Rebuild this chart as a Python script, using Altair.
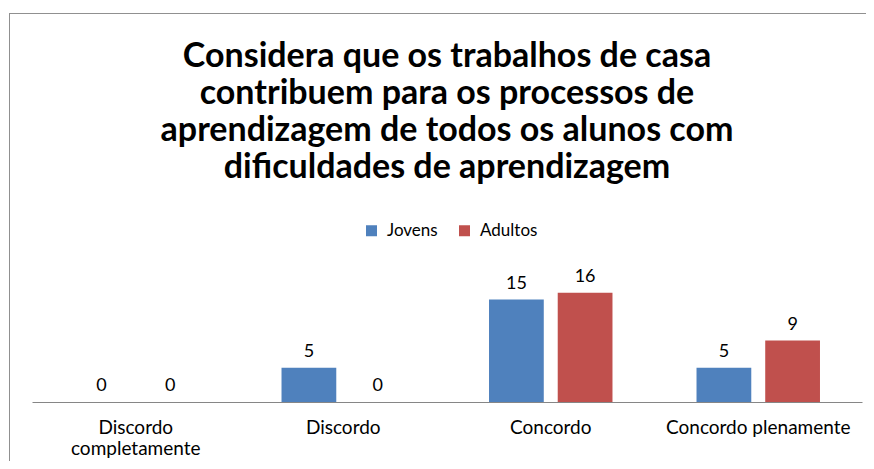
import altair as alt
import pandas as pd

categorias = ["Discordo completamente", "Discordo", "Concordo", "Concordo plenamente"]
jovens = [0, 5, 15, 5]
adultos = [0, 0, 16, 9]
series = ["Jovens", "Adultos"]
cores = ["#4F81BD", "#C0504D"]
titulo = [
    "Considera que os trabalhos de casa",
    "contribuem para os processos de",
    "aprendizagem de todos os alunos com",
    "dificuldades de aprendizagem",
]

rows = []
for c, j, a in zip(categorias, jovens, adultos):
    rows.append({"categoria": c, "grupo": series[0], "valor": j})
    rows.append({"categoria": c, "grupo": series[1], "valor": a})
df = pd.DataFrame(rows)

FONT = "Lato"

x_enc = alt.X(
    "categoria:N",
    sort=categorias,
    scale=alt.Scale(paddingInner=0.405, paddingOuter=0.2025),
    axis=alt.Axis(
        title=None,
        labelAngle=0,
        ticks=False,
        domainColor="#868686",
        domainWidth=1,
        labelFont=FONT,
        labelFontSize=19,
        labelColor="#000000",
        labelPadding=16,
        labelLimit=400,
        labelOverlap=False,
        labelLineHeight=21,
        labelExpr="datum.value == 'Discordo completamente' ? ['Discordo', 'completamente'] : datum.label",
    ),
)
xoff = alt.XOffset("grupo:N", sort=series, scale=alt.Scale(paddingInner=0.203, paddingOuter=0))
y_enc = alt.Y("valor:Q", scale=alt.Scale(domain=[0, 18]), axis=None)

# chart border (top and left edges only), drawn as thin filled rects
frame_top = alt.Chart(pd.DataFrame({"t": [0]})).mark_rect(color="#909090", strokeWidth=0).encode(
    x=alt.value(-23), x2=alt.value(834), y=alt.value(-266), y2=alt.value(-265)
)
frame_left = alt.Chart(pd.DataFrame({"l": [0]})).mark_rect(color="#909090", strokeWidth=0).encode(
    x=alt.value(-23), x2=alt.value(-22), y=alt.value(-266), y2=alt.value(182)
)

bars = alt.Chart(df).mark_bar().encode(
    x=x_enc,
    xOffset=xoff,
    y=y_enc,
    color=alt.Color(
        "grupo:N",
        sort=series,
        scale=alt.Scale(domain=series, range=cores),
        legend=alt.Legend(
            title=None,
            orient="none",
            legendX=331,
            legendY=-57,
            direction="horizontal",
            columns=2,
            symbolType="square",
            symbolSize=121,
            symbolStrokeWidth=0,
            symbolOpacity=1,
            labelFont=FONT,
            labelFontSize=17,
            labelColor="#000000",
            labelOffset=7,
            columnPadding=18,
            padding=0,
        ),
    ),
)

labels = alt.Chart(df).mark_text(
    dy=-11, baseline="alphabetic", font=FONT, fontSize=18, color="#000000"
).encode(
    x=alt.X("categoria:N", sort=categorias),
    xOffset=alt.XOffset("grupo:N", sort=series),
    y=alt.Y("valor:Q"),
    text=alt.Text("valor:Q"),
)

chart = alt.layer(frame_top, frame_left, bars, labels).properties(
    width=830,
    height=123,
    padding={"left": 24, "top": 271, "right": 4, "bottom": 59},
    autosize=alt.AutoSizeParams(type="none"),
    title=alt.TitleParams(
        text=titulo,
        anchor="middle",
        font=FONT,
        fontSize=34,
        fontWeight="bold",
        color="#000000",
        lineHeight=37,
        offset=-172,
    ),
).configure_view(stroke="transparent")

chart.save("out.html", embed_options={"renderer": "svg", "actions": False})
